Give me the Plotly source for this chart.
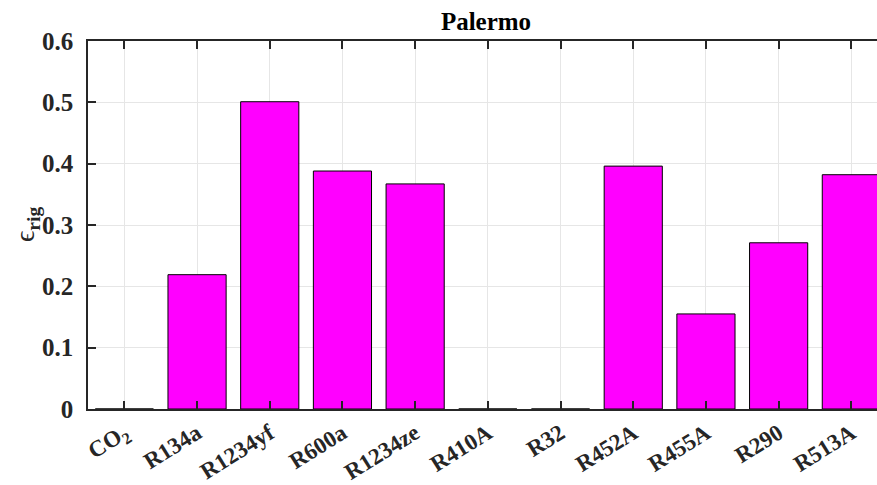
import plotly.graph_objects as go

categories = ["CO<sub>2</sub>", "R134a", "R1234yf", "R600a", "R1234ze", "R410A",
              "R32", "R452A", "R455A", "R290", "R513A"]
values = [0.0, 0.219, 0.501, 0.388, 0.367, 0.0, 0.0, 0.396, 0.155, 0.271, 0.382]
y_ticks = [0, 0.1, 0.2, 0.3, 0.4, 0.5, 0.6]
y_labels = ["0", "0.1", "0.2", "0.3", "0.4", "0.5", "0.6"]

FONT = "Liberation Serif"
TXT = "#262626"

x_idx = list(range(len(categories)))

fig = go.Figure()
fig.add_trace(go.Bar(
    x=x_idx, y=values, width=0.8,
    marker=dict(color="#ff00ff", line=dict(color="#000000", width=1)),
))

fig.update_layout(
    width=877, height=485,
    margin=dict(l=88, r=0, t=41, b=76),
    paper_bgcolor="white", plot_bgcolor="white",
    showlegend=False,
    font=dict(family=FONT, color=TXT),
    title=dict(text="<b>Palermo</b>", x=486 / 877,
               xanchor="center", xref="container", yref="container",
               y=1 - 21 / 485, yanchor="middle",
               font=dict(family=FONT, size=25, color="#000000")),
)

fig.update_xaxes(
    tickmode="array", tickvals=x_idx, ticktext=["<b>%s</b>" % c for c in categories],
    range=[-0.5, 10.353], tickangle=-32,
    tickfont=dict(family=FONT, size=23, color=TXT),
    showgrid=True, gridcolor="#e6e6e6", gridwidth=1,
    showline=True, linecolor="#262626", linewidth=1.5, mirror="ticks",
    ticks="inside", ticklen=8, tickcolor="#262626", tickwidth=1.5,
    automargin=False,
    zeroline=False,
)

fig.update_yaxes(
    tickmode="array", tickvals=y_ticks, ticktext=["<b>%s</b>" % t for t in y_labels],
    range=[0, 0.6],
    tickfont=dict(family=FONT, size=25, color=TXT),
    showgrid=True, gridcolor="#e6e6e6", gridwidth=1,
    showline=True, linecolor="#262626", linewidth=1.5, mirror=False,
    ticks="inside", ticklen=8, tickcolor="#262626", tickwidth=1.5,
    ticklabelstandoff=8, automargin=False,
    zeroline=False,
)

fig.add_annotation(
    text="ϵ<sub><b>rig</b></sub>", xref="paper", yref="paper",
    x=(26 - 88) / 789, y=0.5, xanchor="center", yanchor="middle",
    textangle=-90, showarrow=False,
    font=dict(family=FONT, size=28, color=TXT),
)

fig.write_html("out.html")
